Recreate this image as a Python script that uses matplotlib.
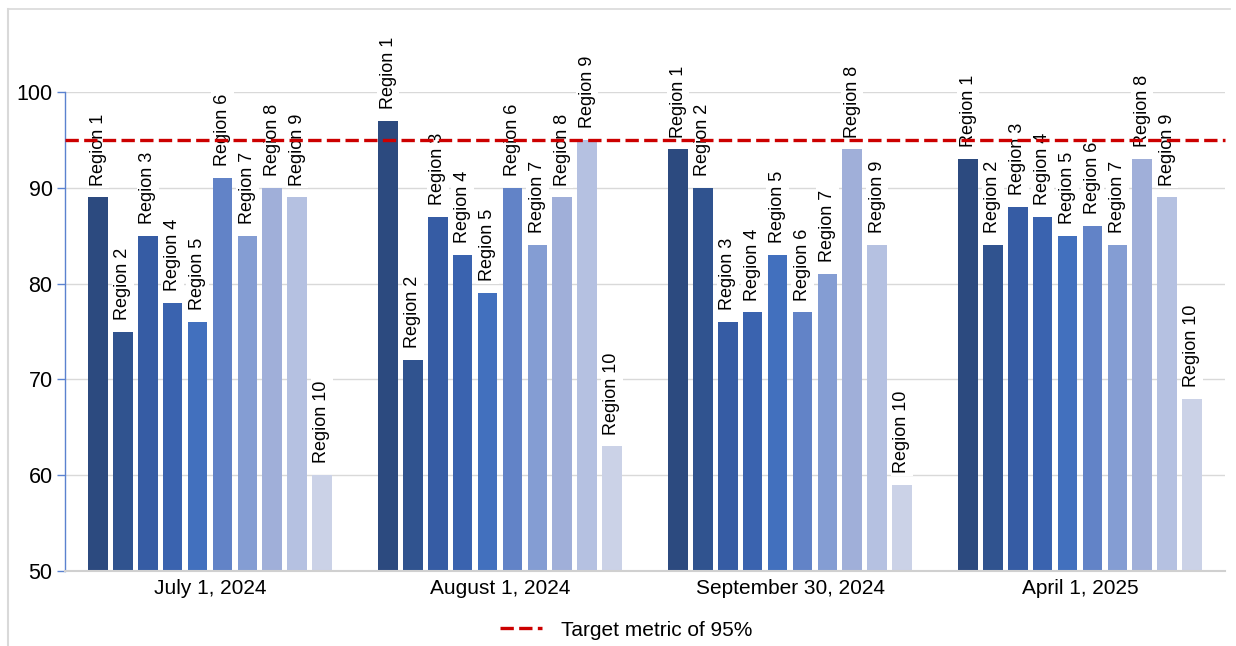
import matplotlib
matplotlib.use("Agg")
import matplotlib.pyplot as plt
from matplotlib.lines import Line2D
import numpy as np

plt.rcParams['font.family'] = ['Liberation Sans', 'DejaVu Sans']

dates = ["July 1, 2024", "August 1, 2024", "September 30, 2024", "April 1, 2025"]
regions = [f"Region {i}" for i in range(1, 11)]

region_1 = [89, 97, 94, 93]
region_2 = [75, 72, 90, 84]
region_3 = [85, 87, 76, 88]
region_4 = [78, 83, 77, 87]
region_5 = [76, 79, 83, 85]
region_6 = [91, 90, 77, 86]
region_7 = [85, 84, 81, 84]
region_8 = [90, 89, 94, 93]
region_9 = [89, 95, 84, 89]
region_10 = [60, 63, 59, 68]
series = [region_1, region_2, region_3, region_4, region_5,
          region_6, region_7, region_8, region_9, region_10]

target = 95
y_ticks = [50, 60, 70, 80, 90, 100]

colors = ["#2C4A7F", "#30538F", "#365CA4", "#3A63AF", "#4270BE",
          "#6283C7", "#849DD3", "#A0AFD9", "#B5C1E1", "#CBD2E7"]

fig = plt.figure(figsize=(12.36, 6.46), dpi=100)
ax = fig.add_axes([65 / 1236, 75 / 646, 1160 / 1236, 479 / 646])

x = np.arange(len(dates))
pitch = 0.0858
width = 0.067
offsets = (np.arange(len(regions)) - (len(regions) - 1) / 2) * pitch

for i, (name, vals) in enumerate(zip(regions, series)):
    xs = x + offsets[i]
    ax.bar(xs, vals, width=width, color=colors[i], zorder=2, label=name)
    for xi, v in zip(xs, vals):
        ax.annotate(name, (xi, v), xytext=(0, 8.5), textcoords="offset points",
                    rotation=90, ha="center", va="bottom", fontsize=13,
                    color="#000000", zorder=3, annotation_clip=False,
                    bbox=dict(boxstyle="square,pad=0.15", fc="white", ec="none"))

ax.axhline(target, color="#CC0000", lw=2.4, ls=(0, (4, 1.6)), zorder=4, clip_on=False)

ax.set_xlim(-0.5, len(dates) - 0.5)
ax.set_ylim(50, 100)
ax.set_yticks(y_ticks)
ax.set_xticks(x)
ax.set_xticklabels(dates)
ax.tick_params(axis="x", length=0, labelsize=15, pad=6)
ax.tick_params(axis="y", length=6, width=1, color="#5B82CF", labelsize=15.5, pad=3)
ax.grid(axis="y", color="#D9D9D9", lw=1, zorder=0)
ax.set_axisbelow(True)

for s in ("top", "right"):
    ax.spines[s].set_visible(False)
ax.spines["left"].set_color("#5B82CF")
ax.spines["left"].set_linewidth(1)
ax.spines["bottom"].set_color("#D0D0D0")
ax.spines["bottom"].set_linewidth(1.5)

# chart-area border along the top and left edges
fig.add_artist(Line2D([8 / 1236, 1230 / 1236], [1 - 9 / 646, 1 - 9 / 646],
                      color="#D9D9D9", lw=1.2))
fig.add_artist(Line2D([8 / 1236, 8 / 1236], [0, 1 - 9 / 646],
                      color="#D9D9D9", lw=1.5))

handle = Line2D([], [], color="#CC0000", lw=2.4, ls=(0, (4, 1.6)))
fig.legend([handle], ["Target metric of 95%"], loc="center",
           bbox_to_anchor=(626 / 1236, 16 / 646), frameon=False,
           fontsize=15, handlelength=2.0, handletextpad=0.9)

fig.savefig("out.png", dpi=100)
